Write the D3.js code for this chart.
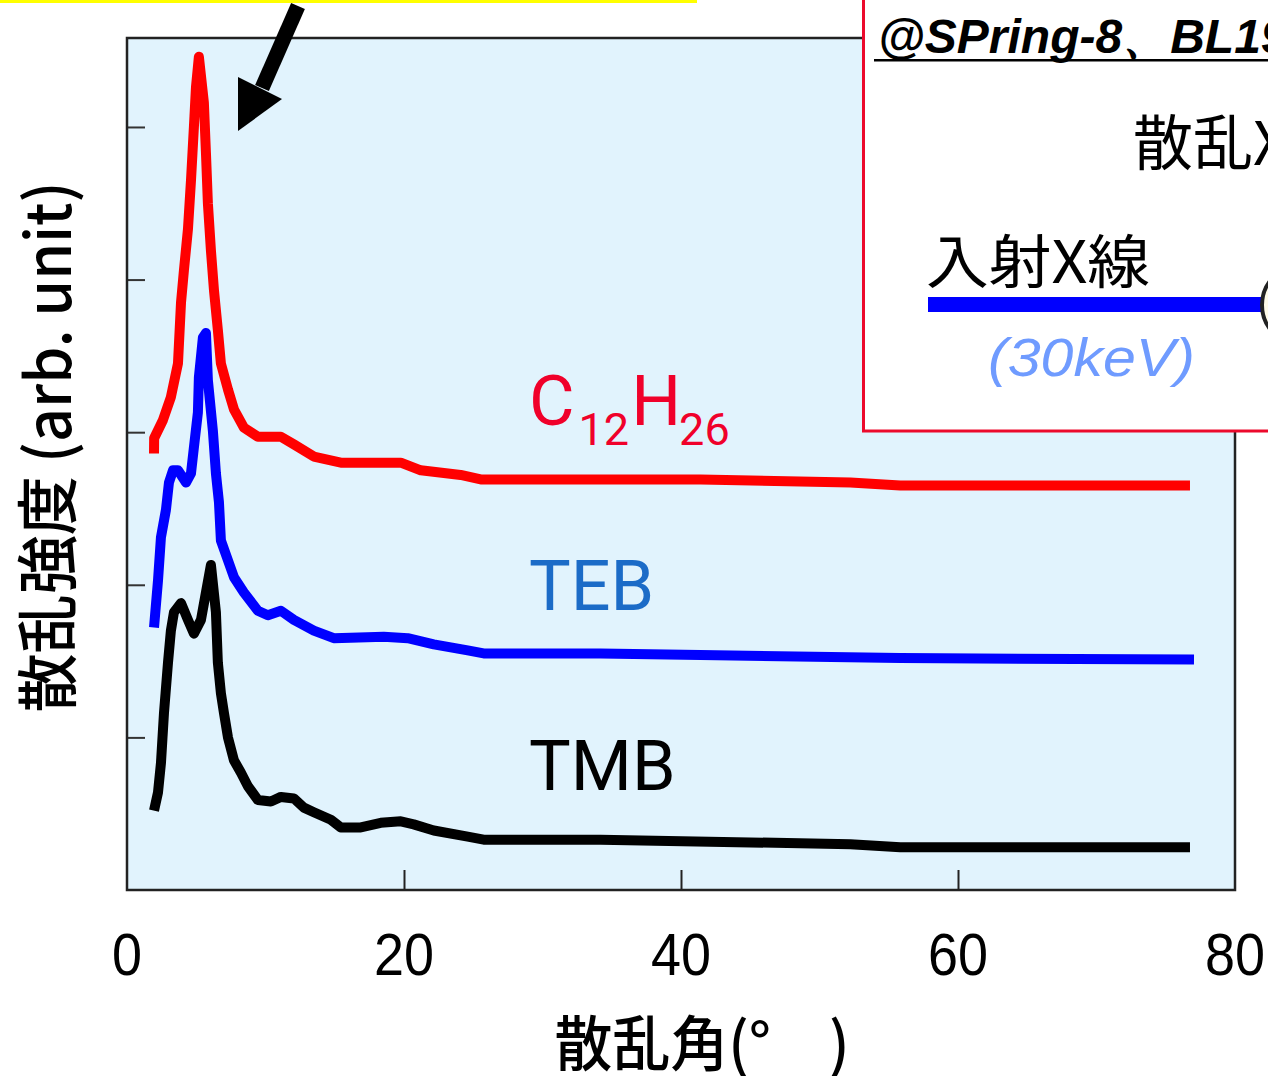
<!DOCTYPE html>
<html>
<head>
<meta charset="utf-8">
<script src="https://cdn.jsdelivr.net/npm/d3@7"></script>
<style>
  html, body { margin: 0; padding: 0; background: #ffffff; }
  svg { display: block; }
</style>
</head>
<body>
<svg id="chart" width="1268" height="1076"></svg>
<script>
// ---- data ----
const xTicks = [0, 20, 40, 60, 80];
const yTicks = [1, 2, 3, 4, 5];
const seriesNames = ["C12H26", "TEB", "TMB"];

const c12h26 = [[1.95,2.86],[1.96,2.96],[2.6,3.08],[3.17,3.23],[3.68,3.45],[3.9,3.85],[4.11,4.06],[4.4,4.33],[4.62,4.65],[4.83,5.0],[4.98,5.26],[5.19,5.46],[5.55,5.16],[5.7,4.83],[5.84,4.5],[6.06,4.19],[6.28,3.93],[6.56,3.67],[6.78,3.45],[7.29,3.28],[7.72,3.15],[8.44,3.03],[9.45,2.97],[11.11,2.97],[12.05,2.92],[13.49,2.84],[15.44,2.8],[19.77,2.8],[21.21,2.75],[24.09,2.72],[25.54,2.69],[41.41,2.69],[52.23,2.67],[55.83,2.65],[76.75,2.65]];

const teb = [[1.95,1.72],[2.24,2.03],[2.45,2.31],[2.81,2.49],[3.03,2.67],[3.32,2.75],[3.68,2.75],[4.26,2.67],[4.62,2.73],[4.83,2.9],[5.12,3.13],[5.19,3.36],[5.48,3.62],[5.7,3.65],[5.84,3.34],[6.2,3.01],[6.42,2.73],[6.64,2.54],[6.78,2.29],[7.29,2.16],[7.72,2.05],[8.44,1.95],[9.45,1.83],[10.17,1.8],[11.11,1.83],[12.05,1.77],[13.49,1.7],[14.93,1.65],[18.54,1.66],[20.27,1.65],[22.15,1.61],[24.6,1.57],[25.75,1.55],[34.19,1.55],[41.41,1.54],[55.83,1.52],[77.04,1.51]];

const tmb = [[1.95,0.52],[2.24,0.64],[2.45,0.83],[2.67,1.16],[2.96,1.49],[3.17,1.7],[3.39,1.82],[3.9,1.88],[4.4,1.77],[4.83,1.68],[5.34,1.77],[5.7,1.95],[6.06,2.13],[6.42,1.82],[6.56,1.49],[6.78,1.29],[7.0,1.16],[7.29,1.0],[7.72,0.85],[8.22,0.77],[8.73,0.68],[9.45,0.59],[10.39,0.58],[11.11,0.61],[12.05,0.6],[12.77,0.54],[13.49,0.51],[14.72,0.46],[15.44,0.41],[16.88,0.41],[18.32,0.44],[19.77,0.45],[20.7,0.43],[22.15,0.39],[24.6,0.35],[25.75,0.33],[34.19,0.33],[52.23,0.3],[55.83,0.28],[76.75,0.28]];

// ---- layout ----
const svg = d3.select("#chart");
const plot = { left: 127, right: 1235, top: 38, bottom: 890 };
const x = d3.scaleLinear().domain([0, 80]).range([plot.left, plot.right]);
const y = d3.scaleLinear().domain([0, 5.583]).range([plot.bottom, plot.top]);

// yellow edge at top
svg.append("rect").attr("x", 0).attr("y", 0).attr("width", 697).attr("height", 3).attr("fill", "#ffff00");

// plot background
svg.append("rect")
  .attr("x", plot.left).attr("y", plot.top)
  .attr("width", plot.right - plot.left).attr("height", plot.bottom - plot.top)
  .attr("fill", "#e1f3fd");

// ticks (inward)
const yAxis = d3.axisRight(y).tickValues(yTicks).tickSize(18).tickFormat("");
svg.append("g").attr("transform", `translate(${plot.left},0)`).call(yAxis)
  .call(g => g.select(".domain").remove())
  .call(g => g.selectAll("line").attr("stroke", "#333").attr("stroke-width", 2));

const xAxis = d3.axisTop(x).tickValues([20, 40, 60]).tickSize(20).tickFormat("");
svg.append("g").attr("transform", `translate(0,${plot.bottom})`).call(xAxis)
  .call(g => g.select(".domain").remove())
  .call(g => g.selectAll("line").attr("stroke", "#222").attr("stroke-width", 2));

// x tick labels (condensed digits)
svg.append("g").selectAll("text").data(xTicks).join("text")
  .attr("x", d => x(d)).attr("y", 975)
  .attr("text-anchor", "middle")
  .attr("font-family", "'Liberation Sans', sans-serif")
  .attr("font-size", 60)
  .attr("fill", "#000")
  .attr("textLength", d => String(d).length * 30)
  .attr("lengthAdjust", "spacingAndGlyphs")
  .text(d => d);

// curves
const line = d3.line().x(d => x(d[0])).y(d => y(d[1]));
const seriesData = [c12h26, teb, tmb];
const seriesColors = ["#ff0000", "#0000ff", "#000000"];
svg.append("g").selectAll("path").data(seriesData).join("path")
  .attr("d", line)
  .attr("fill", "none")
  .attr("stroke", (d, i) => seriesColors[i])
  .attr("stroke-width", 10)
  .attr("stroke-linejoin", "round");

// plot border
svg.append("rect")
  .attr("x", plot.left).attr("y", plot.top)
  .attr("width", plot.right - plot.left).attr("height", plot.bottom - plot.top)
  .attr("fill", "none").attr("stroke", "#222").attr("stroke-width", 2.5);

// series labels
const lab = svg.append("g").attr("font-family", "Roboto, 'Liberation Sans', sans-serif");
const c = lab.append("text").attr("x", 529).attr("y", 425).attr("font-size", 70).attr("fill", "#f0002a");
c.append("tspan").text("C");
c.append("tspan").attr("font-size", 45).attr("dy", 20).attr("dx", 4).text("12");
c.append("tspan").attr("dy", -20).attr("dx", 2).text("H");
c.append("tspan").attr("font-size", 45).attr("dy", 20).attr("dx", -2).text("26");
lab.append("text").attr("x", 529).attr("y", 610).attr("font-size", 70).attr("fill", "#1b6bc7").text(seriesNames[1]);
lab.append("text").attr("x", 529).attr("y", 790).attr("font-size", 70).attr("fill", "#000").text(seriesNames[2]);

// arrow annotation
svg.append("line").attr("x1", 298).attr("y1", 6).attr("x2", 262).attr("y2", 88)
  .attr("stroke", "#000").attr("stroke-width", 15);
svg.append("polygon").attr("points", "238,131 238,77 282,99").attr("fill", "#000");

// axis titles
svg.append("text")
  .attr("x", 702).attr("y", 1066)
  .attr("text-anchor", "middle")
  .attr("font-family", "'Noto Sans CJK JP', sans-serif")
  .attr("font-weight", 500)
  .attr("font-size", 60)
  .attr("textLength", 295).attr("lengthAdjust", "spacingAndGlyphs")
  .text("散乱角(°　)");

svg.append("text")
  .attr("transform", "translate(44,447) rotate(-90)")
  .attr("text-anchor", "middle")
  .attr("dominant-baseline", "central")
  .attr("font-family", "'Noto Sans CJK JP', sans-serif")
  .attr("font-weight", 500)
  .attr("font-size", 62)
  .attr("textLength", 531).attr("lengthAdjust", "spacingAndGlyphs")
  .text("散乱強度 (arb. unit)");

// inset box (experiment schematic)
const inset = svg.append("g");
inset.append("rect").attr("x", 863.5).attr("y", -20).attr("width", 440).attr("height", 451)
  .attr("fill", "#ffffff").attr("stroke", "#ec0a2c").attr("stroke-width", 3);
inset.append("text").attr("x", 878).attr("y", 53)
  .attr("font-family", "'Liberation Sans', sans-serif").attr("font-style", "italic").attr("font-weight", "bold")
  .attr("font-size", 48).attr("fill", "#000").text("@SPring-8、BL19B2");
inset.append("rect").attr("x", 874).attr("y", 59).attr("width", 400).attr("height", 2.5).attr("fill", "#000");
inset.append("text").attr("x", 1133).attr("y", 165)
  .attr("font-family", "'Noto Sans CJK JP', sans-serif").attr("font-size", 60).attr("fill", "#000").text("散乱X線");
inset.append("text").attr("x", 926).attr("y", 283)
  .attr("font-family", "'Noto Sans CJK JP', sans-serif").attr("font-size", 58)
  .attr("textLength", 224).attr("lengthAdjust", "spacingAndGlyphs").attr("fill", "#000").text("入射X線");
inset.append("rect").attr("x", 928).attr("y", 297).attr("width", 360).attr("height", 15).attr("fill", "#0000ff");
inset.append("circle").attr("cx", 1302).attr("cy", 305).attr("r", 40)
  .attr("fill", "#fffbe8").attr("stroke", "#222").attr("stroke-width", 4);
inset.append("text").attr("x", 988).attr("y", 376)
  .attr("font-family", "'Liberation Sans', sans-serif").attr("font-style", "italic")
  .attr("font-size", 54).attr("fill", "#6f9bff")
  .attr("textLength", 207).attr("lengthAdjust", "spacingAndGlyphs").text("(30keV)");
</script>
</body>
</html>
